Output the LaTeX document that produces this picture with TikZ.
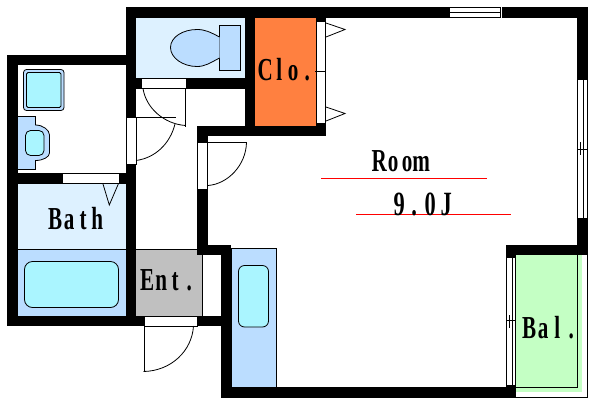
\documentclass[tikz,border=0pt]{standalone}
\usepackage{fontspec}
\setmainfont{Liberation Serif}
\definecolor{pale}{HTML}{DDF1FF}
\definecolor{midblue}{HTML}{BBDDFF}
\definecolor{aqua}{HTML}{AAF5FF}
\definecolor{clo}{HTML}{FF8040}
\definecolor{bal}{HTML}{C4FFC4}
\definecolor{ent}{HTML}{C0C0C0}
\newcommand\cs[1]{\makebox[14pt]{\scalebox{.66}[1]{#1}}}
\tikzset{
  wall/.style={fill=black,draw=none},
  opening/.style={fill=white,draw=black,line width=.8pt},
  thin/.style={draw=black,line width=.8pt},
  fixture/.style={draw=black,line width=.8pt},
  redline/.style={draw=red,line width=1pt},
  lbl/.style={inner sep=0pt,font=\fontsize{32}{32}\selectfont\bfseries,anchor=base west}
}
\begin{document}
\begin{tikzpicture}[x=1pt,y=-1pt]
\useasboundingbox (0,0) rectangle (600,405);
\fill[white] (0,0) rectangle (600,405);
% floors
\fill[pale] (136,18) rectangle (245,78);
\fill[pale] (18,184) rectangle (126,249);
\fill[midblue] (18,249) rectangle (126,316);
\draw[thin] (18,249) -- (126,249);
\fill[clo] (255,18) rectangle (316,126);
\fill[ent] (136,249) rectangle (202,316);
\draw[thin] (136,249) -- (202,249) -- (202,316) -- (136,316);
\fill[bal] (516,255) rectangle (582,392);
\draw[thin] (587.5,255) -- (587.5,397.5) -- (516,397.5);
\draw[thin] (577.5,255) -- (577.5,387.5) -- (516,387.5);
\draw[fixture,fill=midblue] (231,248.5) rectangle (276,387);
% walls
\fill[wall] (126,7) rectangle (588,18);
\fill[wall] (7,55) rectangle (126,65);
\fill[wall] (7,55) rectangle (18,326);
\fill[wall] (7,316) rectangle (144,326);
\fill[wall] (126,7) rectangle (136,118);
\fill[wall] (126,164) rectangle (136,326);
\fill[wall] (136,78) rectangle (141,89);
\fill[wall] (186,78) rectangle (245,89);
\fill[wall] (245,18) rectangle (255,136);
\fill[wall] (197,126) rectangle (326,136);
\fill[wall] (316,18) rectangle (326,21);
\fill[wall] (316,123) rectangle (326,136);
\fill[wall] (197,126) rectangle (208,142);
\fill[wall] (197,189) rectangle (208,255);
\fill[wall] (197,245) rectangle (231,255);
\fill[wall] (221,245) rectangle (231,398);
\fill[wall] (221,387) rectangle (516,398);
\fill[wall] (197,316) rectangle (221,326);
\fill[wall] (577,7) rectangle (588,80);
\fill[wall] (577,218) rectangle (588,255);
\fill[wall] (506,245) rectangle (588,255);
\fill[wall] (506,245) rectangle (516,258);
\fill[wall] (506,385) rectangle (516,398);
\fill[wall] (18,173) rectangle (62,184);
\fill[wall] (120,173) rectangle (126,184);
% openings
\draw[opening] (141,78.5) rectangle (186,88.5);
\draw[opening] (126.5,117.5) rectangle (136,164);
\draw[opening] (197.5,142.5) rectangle (207.5,189);
\draw[opening] (144.5,316.5) rectangle (197,326);
\draw[opening] (62,173.5) rectangle (119.5,183.5);
\draw[opening] (316.5,21) rectangle (325.5,123);
\draw[thin] (315,71) -- (326,71);
% windows
\fill[white] (450,7) rectangle (501.5,18);
\draw[thin] (450,7.5) -- (500,7.5) (450,12.7) -- (500,12.7) (450,17.5) -- (500,17.5);
\draw[thin] (500.3,7) -- (500.3,18);
\fill[white] (577,80) rectangle (588,218);
\draw[thin] (577.5,80) -- (577.5,217.5) (583.5,80) -- (583.5,217.5) (587.5,80) -- (587.5,217.5);
\draw[thin] (578,149.5) -- (587,149.5) (580.5,142) -- (580.5,155);
\fill[white] (506,258) rectangle (516,385);
\draw[thin] (506.5,258) -- (506.5,385) (512.8,258) -- (512.8,385) (515.7,255) -- (515.7,387);
\draw[thin] (507,320.5) -- (515,320.5) (509.7,315) -- (509.7,328);
% door leaves
\draw[thin] (185.5,88.5) -- (185.5,126.5);
\draw[thin] (143,88.5) .. controls (146,108) and (164,124) .. (185.5,125.5);
\draw[thin] (136,117.5) -- (176,117.5);
\draw[thin] (175,124) .. controls (170,144) and (155,158) .. (136,160.5);
\draw[thin] (208,142.5) -- (246.5,142.5);
\draw[thin] (246.5,142.5) .. controls (246,165) and (228,184) .. (208,185.5);
\draw[thin] (144.5,326) -- (144.5,371.5);
\draw[thin] (193.5,326) .. controls (192,351) and (171,371) .. (143.5,371.5);
% door swing triangles
\draw[thin] (103,184) -- (109.3,205) -- (118.3,184);
\draw[thin] (326,23) -- (345,29.5) -- (326,37);
\draw[thin] (326,107) -- (345,113.5) -- (326,121);
% toilet
\draw[fixture,fill=midblue] (219.5,25.5) rectangle (240.5,70.5);
\draw[fixture,fill=midblue] (219.5,37) .. controls (210,32) and (205,29.5) .. (197,29.5) .. controls (183,29.5) and (170.5,37) .. (170.5,47.5) .. controls (170.5,58) and (183,66.5) .. (197,66.5) .. controls (205,66.5) and (210,63) .. (219.5,58);
% hand basin
\draw[fixture,fill=midblue,rounded corners=3pt] (23.5,69.5) rectangle (64,110.5);
\draw[fixture,fill=aqua,rounded corners=1.5pt] (26.5,72.5) rectangle (61,107.5);
% wash bowl
\draw[fixture,fill=midblue] (18,116.5) -- (35.5,116.5) -- (35.5,125) .. controls (43,125) and (49.5,130) .. (49.5,135) -- (49.5,153) .. controls (49.5,157) and (43,160.5) .. (35.5,160.5) -- (35.5,169.5) -- (18,169.5);
\draw[fixture,fill=aqua,rounded corners=5pt] (25.5,130.5) rectangle (44,155.5);
% tubs
\draw[fixture,fill=aqua,rounded corners=8pt] (24.5,261.5) rectangle (118.5,307.5);
\draw[fixture,fill=aqua,rounded corners=6pt] (238.5,265.5) rectangle (268.5,327);
% red lines
\draw[redline] (321,178.3) -- (487,178.3);
\draw[redline] (356,214.3) -- (511,214.3);
% labels
\node[lbl] (clo) at (258,80) {\cs{C}\cs{l}\cs{o}\cs{.}};
\node[lbl] (room) at (372,171) {\cs{R}\cs{o}\cs{o}\cs{m}};
\node[lbl,font=\fontsize{34}{34}\selectfont\bfseries] (area) at (391,215) {\makebox[16pt]{\scalebox{.66}[1]{9}}\makebox[14pt]{\scalebox{.66}[1]{.}}\makebox[18pt]{\scalebox{.66}[1]{0}}\makebox[14pt]{\scalebox{.66}[1]{J}}};
\node[lbl] (bath) at (48,229) {\cs{B}\cs{a}\cs{t}\cs{h}};
\node[lbl] (entr) at (140,290.5) {\cs{E}\cs{n}\cs{t}\cs{.}};
\node[lbl] (balc) at (522,338) {\cs{B}\cs{a}\cs{l}\cs{.}};
\end{tikzpicture}
\end{document}
